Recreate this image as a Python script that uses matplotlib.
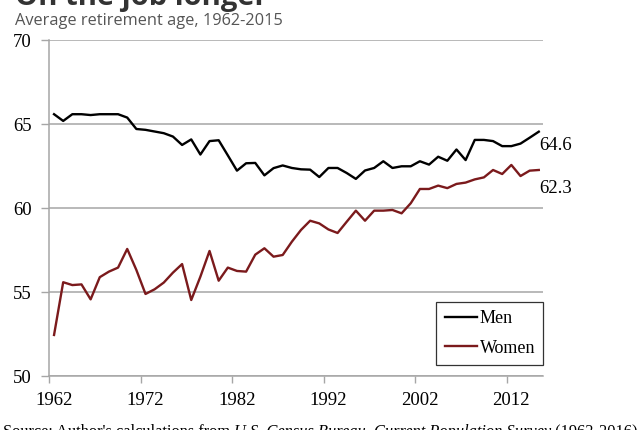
import matplotlib
matplotlib.use("Agg")
import matplotlib.pyplot as plt
import numpy as np

# Average retirement age, 1962-2015
years = list(range(1962, 2016))
men = [65.6, 65.2, 65.6, 65.6, 65.55, 65.6, 65.6, 65.6, 65.4, 64.72,
       64.67, 64.57, 64.47, 64.27, 63.77, 64.1, 63.2, 64.0, 64.05, 63.15,
       62.24, 62.68, 62.7, 61.96, 62.39, 62.55, 62.4, 62.32, 62.3, 61.86,
       62.4, 62.4, 62.1, 61.75, 62.25, 62.4, 62.8, 62.4, 62.5, 62.5,
       62.8, 62.6, 63.07, 62.83, 63.5, 62.87, 64.07, 64.07, 64.0, 63.7,
       63.7, 63.85, 64.2, 64.56]
women = [52.46, 55.6, 55.43, 55.47, 54.58, 55.9, 56.23, 56.47, 57.58, 56.33,
         54.9, 55.18, 55.58, 56.17, 56.68, 54.54, 55.93, 57.46, 55.69, 56.47,
         56.27, 56.23, 57.24, 57.62, 57.12, 57.22, 58.01, 58.71, 59.26, 59.1,
         58.74, 58.53, 59.2, 59.86, 59.26, 59.86, 59.86, 59.9, 59.7, 60.3,
         61.15, 61.15, 61.35, 61.2, 61.45, 61.53, 61.72, 61.84, 62.28, 62.04,
         62.58, 61.92, 62.24, 62.28]
tick_years = [1962, 1972, 1982, 1992, 2002, 2012]
end_labels = ["64.6", "62.3"]

serif = ["Liberation Serif", "DejaVu Serif"]
grey = "#a6a6a6"
red = "#7b1a1c"
fs = 13.5

fig = plt.figure(figsize=(6.4, 4.3), dpi=100)
ax = fig.add_axes([0.0773, 0.1249, 0.7717, 0.7814])

ax.plot(years, men, color="black", lw=1.7, label="Men")
ax.plot(years, women, color=red, lw=1.7, label="Women")

ax.set_xlim(1961.5, 2015.5)
ax.set_ylim(50, 70)
ax.set_yticks([50, 55, 60, 65, 70])
ax.yaxis.grid(True, color=grey, lw=1.1)
ax.set_axisbelow(True)

# Excel style: tick marks between categories, labels on the category
ax.set_xticks([y - 0.5 for y in tick_years])
ax.set_xticklabels([])
ax.set_xticks(tick_years, minor=True)
ax.set_xticklabels([str(y) for y in tick_years], minor=True, fontfamily=serif, fontsize=fs)
ax.tick_params(axis="x", which="major", length=5, color=grey, width=1)
ax.tick_params(axis="x", which="minor", length=0, pad=11)
ax.tick_params(axis="y", length=6, color=grey, width=1, pad=7)
for lbl in ax.get_yticklabels():
    lbl.set_fontfamily(serif)
    lbl.set_fontsize(fs)

for s in ["top", "right"]:
    ax.spines[s].set_visible(False)
for s in ["left", "bottom"]:
    ax.spines[s].set_color(grey)
    ax.spines[s].set_linewidth(1.1)

ax.annotate(end_labels[0], (years[-1], men[-1]), xytext=(0, -4), textcoords="offset points",
            ha="left", va="top", fontfamily=serif, fontsize=fs, annotation_clip=False)
ax.annotate(end_labels[1], (years[-1], women[-1]), xytext=(0, -7), textcoords="offset points",
            ha="left", va="top", fontfamily=serif, fontsize=fs, annotation_clip=False)

leg = ax.legend(loc="lower right", bbox_to_anchor=(1.0, 0.034), prop={"family": serif, "size": 13},
                frameon=True, fancybox=False, handlelength=1.8, handletextpad=0.15,
                labelspacing=0.7, borderpad=0.45, borderaxespad=0)
leg.get_frame().set_edgecolor("black")
leg.get_frame().set_linewidth(0.9)

# title is cut by the top edge in the original
fig.text(15 / 640, 1 - 5 / 430, "On the job longer", fontfamily="Open Sans", fontweight="bold",
         fontsize=21, color="#333333", va="baseline")
fig.text(15 / 640, 1 - 25 / 430, "Average retirement age, 1962-2015", fontfamily="Open Sans",
         fontsize=11.8, color="#555555", va="baseline")

# source line, mostly cut by the bottom edge
fig.canvas.draw()
r = fig.canvas.get_renderer()
x0 = 3 / 640
yb = -6 / 430
parts = [("Source: Author's calculations from ", "normal"),
         ("U.S. Census Bureau, Current Population Survey", "italic"),
         (" (1962-2016).", "normal")]
for txt, st in parts:
    t = fig.text(x0, yb, txt, fontfamily=serif, fontsize=11.8, fontstyle=st, va="baseline")
    bb = t.get_window_extent(renderer=r)
    x0 += bb.width / fig.bbox.width

fig.savefig("out.png", dpi=100)
